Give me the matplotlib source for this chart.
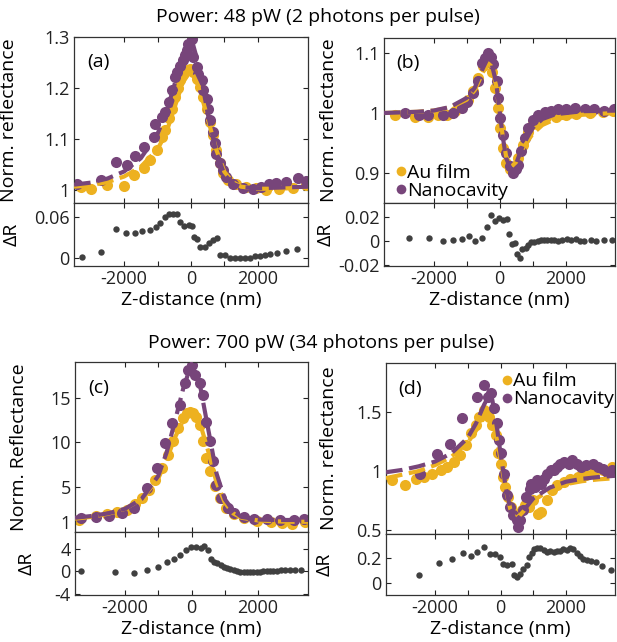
import matplotlib
matplotlib.use("Agg")
import matplotlib.pyplot as plt
from matplotlib.lines import Line2D

plt.rcParams["font.family"] = ["Open Sans", "DejaVu Sans"]
plt.rcParams["axes.unicode_minus"] = False

GOLD = "#EDB120"
PURPLE = "#77457a"
GREY = "#404040"

# ---- 48 pW, panel (a): reflectance peak ----
a_au_x = [-3300, -3004, -2510, -2016, -1713, -1416, -1218, -1020, -871, -772, -673, -574, -475,
          -376, -327, -228, -129, -30, 69, 168, 267, 366, 465, 564, 663, 762, 861, 960, 1109,
          1356, 1653, 1950, 2248, 2644, 3040, 3436]
a_au_y = [1.005, 1.001, 1.009, 1.008, 1.029, 1.042, 1.058, 1.078, 1.104, 1.117, 1.140, 1.159, 1.182,
          1.199, 1.215, 1.228, 1.235, 1.238, 1.231, 1.218, 1.202, 1.182, 1.159, 1.133, 1.107, 1.078,
          1.052, 1.032, 1.019, 1.012, 1.006, 1.003, 1.000, 1.001, 1.003, 1.009]
a_nc_x = [-3400, -2700, -2257, -1910, -1663, -1416, -1119, -1069, -871, -772, -673, -574, -475,
          -426, -327, -228, -178, -129, -79, 20, 69, 168, 218, 317, 366, 465, 515, 564, 663, 713,
          762, 861, 960, 1059, 1257, 1554, 1851, 2099, 2347, 2545, 2842, 3188, 3436]
a_nc_y = [1.012, 1.019, 1.054, 1.048, 1.067, 1.084, 1.104, 1.129, 1.143, 1.153, 1.172, 1.195, 1.222,
          1.231, 1.244, 1.254, 1.264, 1.274, 1.287, 1.297, 1.261, 1.241, 1.228, 1.215, 1.195, 1.179,
          1.159, 1.137, 1.114, 1.091, 1.071, 1.052, 1.039, 1.025, 1.012, 1.003, 1.001, 1.006, 1.012,
          1.014, 1.016, 1.024, 1.018]
a_fit_x = [-3500, -3000, -2500, -2000, -1500, -1000, -750, -500, -250, 0, 250, 500, 750, 1000,
           1250, 1500, 2000, 2500, 3000, 3500]
a_fit_au = [1.006, 1.009, 1.015, 1.026, 1.045, 1.080, 1.110, 1.160, 1.210, 1.235, 1.200, 1.140,
            1.080, 1.035, 1.015, 1.006, 1.002, 1.002, 1.003, 1.004]
a_fit_nc = [1.010, 1.014, 1.022, 1.036, 1.062, 1.110, 1.150, 1.205, 1.265, 1.300, 1.240, 1.150,
            1.075, 1.030, 1.012, 1.005, 1.003, 1.004, 1.005, 1.006]
a_dr_x = [-3264, -2680, -2243, -1947, -1671, -1454, -1235, -1057, -929, -790, -662, -534, -415,
          -344, -217, -68, 30, 80, 178, 279, 427, 525, 644, 772, 872, 1020, 1169, 1317, 1466, 1614,
          1763, 1913, 2062, 2210, 2374, 2573, 2850, 3167]
a_dr_y = [0.0023, 0.0095, 0.042, 0.036, 0.037, 0.039, 0.041, 0.0447, 0.0505, 0.060, 0.0635, 0.0644,
          0.064, 0.052, 0.0466, 0.048, 0.047, 0.031, 0.0274, 0.0159, 0.0159, 0.0216, 0.0264, 0.0297,
          0.0048, 0.0043, 0.0, 0.0, 0.0, 0.0, 0.001, 0.003, 0.004, 0.005, 0.006, 0.008, 0.011, 0.013]

# ---- 48 pW, panel (b): dispersive shape ----
b_au_x = [-3159, -2555, -2152, -1851, -1599, -1348, -1147, -945, -794, -643, -493, -342, -241,
          -141, -40, 10, 111, 212, 312, 463, 564, 715, 866, 1017, 1218, 1419, 1721, 2023, 2325,
          2728, 3130, 3432]
b_au_y = [0.997, 0.994, 0.994, 0.997, 0.996, 1.003, 1.011, 1.022, 1.036, 1.058, 1.078, 1.086, 1.069,
          1.042, 1.008, 0.975, 0.942, 0.917, 0.906, 0.911, 0.925, 0.947, 0.969, 0.981, 0.989, 0.993,
          0.994, 0.996, 0.998, 1.000, 1.002, 1.003]
b_nc_x = [-2856, -2454, -2152, -1699, -1398, -1147, -996, -794, -643, -523, -443, -342, -262, -191,
          -90, -40, 10, 111, 212, 312, 413, 513, 564, 664, 765, 866, 1017, 1167, 1369, 1570, 1771,
          2023, 2274, 2576, 2878, 3180, 3482]
b_nc_y = [1.000, 0.997, 0.996, 0.996, 1.000, 1.008, 1.019, 1.033, 1.053, 1.083, 1.092, 1.100, 1.094,
          1.081, 1.053, 1.025, 0.992, 0.964, 0.933, 0.911, 0.900, 0.906, 0.914, 0.936, 0.958, 0.975,
          0.989, 0.997, 1.002, 1.004, 1.006, 1.007, 1.008, 1.007, 1.006, 1.004, 1.006]
b_fit_x = [-3500, -2500, -2000, -1500, -1000, -750, -500, -350, -250, -100, 0, 100, 200, 350, 500,
           700, 1000, 1300, 1700, 2500, 3500]
b_fit_au = [1.000, 1.002, 1.004, 1.009, 1.022, 1.038, 1.068, 1.083, 1.078, 1.045, 1.005, 0.960,
            0.928, 0.910, 0.918, 0.940, 0.965, 0.980, 0.990, 0.997, 1.000]
b_fit_nc = [1.000, 1.002, 1.004, 1.010, 1.025, 1.042, 1.075, 1.092, 1.085, 1.050, 1.005, 0.960,
            0.925, 0.905, 0.915, 0.945, 0.975, 0.990, 0.998, 1.003, 1.004]
b_dr_x = [-2728, -2124, -1722, -1399, -1136, -916, -734, -544, -393, -260, -130, -9, 112, 224, 293,
          374, 474, 544, 625, 695, 797, 876, 958, 1048, 1157, 1250, 1350, 1450, 1551, 1652, 1773,
          1903, 2054, 2175, 2308, 2429, 2559, 2761, 2930, 3163, 3414]
b_dr_y = [0.0023, 0.0023, 0.0, 0.0011, 0.0014, 0.0043, 0.0, 0.0029, 0.012, 0.0215, 0.0166, 0.0195,
          0.018, 0.0186, 0.0063, -0.0029, -0.0014, -0.0109, -0.0143, -0.0071, -0.006, -0.0034,
          -0.0006, -0.0006, 0.0, 0.0006, 0.0006, 0.0011, 0.0011, 0.0006, 0.0003, 0.0009, 0.0014,
          0.0006, 0.0014, 0.0003, 0.0, 0.0011, 0.0, 0.0006, 0.0009]

# ---- 700 pW, panel (c): reflectance peak ----
c_au_x = [-3366, -2871, -2524, -2228, -1931, -1683, -1485, -1287, -1089, -891, -693, -545, -396,
          -248, -149, -50, 50, 149, 248, 347, 446, 545, 693, 842, 1040, 1287, 1584, 1980, 2376,
          2723, 3020, 3416]
c_au_y = [1.27, 1.68, 1.87, 2.10, 2.42, 2.99, 3.73, 4.66, 5.78, 7.09, 8.58, 10.07, 11.57, 12.69,
          13.25, 13.43, 13.25, 12.87, 11.94, 10.07, 8.21, 6.72, 5.04, 3.73, 2.61, 1.87, 1.49, 1.19,
          1.04, 0.93, 0.82, 0.97]
c_nc_x = [-3317, -2871, -2475, -2079, -1733, -1337, -1040, -792, -594, -347, -198, -99, 0, 99, 248,
          347, 446, 545, 644, 743, 891, 1089, 1287, 1584, 1881, 2277, 2673, 3069, 3366]
c_nc_y = [1.49, 1.57, 1.68, 2.05, 2.61, 4.85, 7.09, 9.89, 12.13, 14.18, 16.60, 18.10, 18.66, 17.54,
          16.60, 15.30, 12.30, 10.07, 7.84, 5.22, 3.73, 2.61, 2.05, 1.57, 1.38, 1.31, 1.27, 1.27,
          1.31]
c_fit_x = [-3500, -3000, -2500, -2000, -1500, -1000, -750, -500, -250, 0, 250, 500, 750, 1000,
           1250, 1500, 2000, 2500, 3000, 3500]
c_fit_au = [1.4, 1.6, 1.95, 2.5, 3.6, 5.9, 8.0, 10.5, 12.4, 13.2, 12.2, 9.0, 5.5, 3.2, 2.0, 1.5,
            1.2, 1.1, 1.05, 1.05]
c_fit_nc = [1.5, 1.7, 2.0, 2.5, 3.6, 6.2, 8.8, 12.3, 16.0, 18.8, 16.5, 11.5, 6.5, 3.6, 2.3, 1.6,
            1.3, 1.25, 1.25, 1.25]
c_dr_x = [-3312, -2294, -1730, -1335, -997, -742, -513, -344, -166, -18, 131, 279, 377, 496, 576,
          674, 772, 872, 970, 1068, 1169, 1267, 1365, 1466, 1564, 1662, 1763, 1861, 1961, 2062,
          2160, 2258, 2357, 2457, 2555, 2674, 2800, 2950, 3098, 3300]
c_dr_y = [0.0, -0.17, -0.28, 0.17, 0.74, 1.71, 2.28, 2.85, 3.82, 4.27, 4.27, 4.17, 4.56, 3.88, 2.12,
          1.71, 1.43, 1.14, 0.85, 0.57, 0.41, 0.17, 0.0, -0.11, -0.17, -0.17, -0.11, -0.11, -0.06,
          -0.06, 0.0, 0.0, 0.06, 0.06, 0.11, 0.17, 0.17, 0.23, 0.28, 0.28]

# ---- 700 pW, panel (d): dispersive shape ----
d_au_x = [-3317, -2921, -2574, -2326, -2079, -1832, -1634, -1436, -1238, -1040, -891, -762, -644,
          -515, -446, -347, -248, -149, -69, 0, 69, 149, 228, 327, 426, 525, 644, 743, 861, 990,
          1139, 1238, 1436, 1584, 1733, 1931, 2129, 2376, 2624, 2871, 3119, 3416]
d_au_y = [0.923, 0.880, 0.937, 0.951, 0.973, 1.007, 1.035, 1.077, 1.134, 1.218, 1.317, 1.387, 1.458,
          1.514, 1.500, 1.458, 1.387, 1.303, 1.148, 1.063, 0.951, 0.866, 0.782, 0.697, 0.641, 0.627,
          0.669, 0.711, 0.697, 0.754, 0.641, 0.655, 0.754, 0.838, 0.880, 0.908, 0.937, 0.951, 0.965,
          0.993, 1.007, 1.035]
d_nc_x = [-2475, -1931, -1535, -1188, -723, -515, -396, -297, -198, -99, -50, 0, 99, 198, 297, 396,
          495, 545, 594, 693, 792, 891, 940, 1040, 1119, 1238, 1337, 1436, 1535, 1634, 1733, 1832,
          1931, 2079, 2178, 2327, 2475, 2624, 2822, 2970, 3119, 3267, 3416]
d_nc_y = [0.979, 1.142, 1.232, 1.444, 1.627, 1.725, 1.627, 1.655, 1.528, 1.401, 1.261, 1.148, 0.979,
          0.796, 0.697, 0.627, 0.585, 0.528, 0.585, 0.669, 0.782, 0.852, 0.894, 0.866, 0.923, 0.894,
          0.937, 0.979, 1.007, 1.007, 1.035, 1.063, 1.077, 1.063, 1.092, 1.063, 1.035, 1.049, 1.063,
          1.035, 1.021, 0.993, 1.007]
d_fit_x = [-3500, -3000, -2500, -2000, -1500, -1000, -750, -500, -400, -350, -250, -100, 0, 150,
           300, 450, 600, 800, 1000, 1500, 2000, 2500, 3000, 3500]
d_fit_au = [0.94, 0.97, 1.00, 1.05, 1.12, 1.24, 1.34, 1.45, 1.49, 1.48, 1.44, 1.25, 1.10, 0.86,
            0.68, 0.60, 0.63, 0.69, 0.75, 0.84, 0.89, 0.915, 0.93, 0.94]
d_fit_nc = [0.99, 1.01, 1.04, 1.08, 1.15, 1.28, 1.40, 1.56, 1.61, 1.63, 1.60, 1.35, 1.15, 0.88,
            0.68, 0.58, 0.62, 0.70, 0.77, 0.86, 0.91, 0.935, 0.95, 0.96]
d_dr_x = [-2477, -1891, -1489, -1148, -894, -713, -492, -311, -160, -9, 91, 211, 344, 423, 514, 595,
          695, 797, 876, 949, 1027, 1118, 1220, 1320, 1420, 1523, 1622, 1722, 1823, 1924, 2024, 2127,
          2228, 2326, 2428, 2536, 2631, 2761, 2912, 3110, 3363]
d_dr_y = [0.061, 0.164, 0.197, 0.242, 0.222, 0.256, 0.297, 0.233, 0.233, 0.214, 0.158, 0.144, 0.158,
          0.061, 0.047, 0.075, 0.117, 0.144, 0.214, 0.242, 0.275, 0.283, 0.283, 0.269, 0.256, 0.264,
          0.256, 0.264, 0.264, 0.275, 0.269, 0.283, 0.275, 0.242, 0.219, 0.192, 0.186, 0.181, 0.172,
          0.136, 0.108]

panels = [
    dict(tag="(a)", box=(74, 37, 308, 203, 266), ylab="Norm. reflectance",
         au=(a_au_x, a_au_y), nc=(a_nc_x, a_nc_y), fit=(a_fit_x, a_fit_au, a_fit_nc),
         dr=(a_dr_x, a_dr_y), ylim=(0.974, 1.3), yt=[1, 1.1, 1.2, 1.3], ytl=["1", "1.1", "1.2", "1.3"],
         drlim=(-0.011, 0.08), drt=[0, 0.06], drtl=["0", "0.06"], lab_x=-0.24, dr_lab_x=-0.23,
         legend=None),
    dict(tag="(b)", box=(384, 38, 615, 203, 266), ylab="Norm. reflectance",
         au=(b_au_x, b_au_y), nc=(b_nc_x, b_nc_y), fit=(b_fit_x, b_fit_au, b_fit_nc),
         dr=(b_dr_x, b_dr_y), ylim=(0.85, 1.125), yt=[0.9, 1, 1.1], ytl=["0.9", "1", "1.1"],
         drlim=(-0.021, 0.032), drt=[-0.02, 0, 0.02], drtl=["-0.02", "0", "0.02"],
         lab_x=-0.20, dr_lab_x=-0.215, legend=("lower left", (0.02, -0.03))),
    dict(tag="(c)", box=(75, 362, 308, 532, 595), ylab="Norm. Reflectance",
         au=(c_au_x, c_au_y), nc=(c_nc_x, c_nc_y), fit=(c_fit_x, c_fit_au, c_fit_nc),
         dr=(c_dr_x, c_dr_y), ylim=(-0.1, 19), yt=[1, 5, 10, 15], ytl=["1", "5", "10", "15"],
         drlim=(-4.2, 7), drt=[-4, 0, 4], drtl=["-4", "0", "4"], lab_x=-0.20, dr_lab_x=-0.17,
         legend=None),
    dict(tag="(d)", box=(386, 363, 615, 534, 595), ylab="Norm. reflectance",
         au=(d_au_x, d_au_y), nc=(d_nc_x, d_nc_y), fit=(d_fit_x, d_fit_au, d_fit_nc),
         dr=(d_dr_x, d_dr_y), ylim=(0.47, 1.91), yt=[0.5, 1, 1.5], ytl=["0.5", "1", "1.5"],
         drlim=(-0.1, 0.4), drt=[0, 0.2], drtl=["0", "0.2"], lab_x=-0.21, dr_lab_x=-0.23,
         legend=("upper right", (1.03, 0.99))),
]

W, H = 617, 642
fig = plt.figure(figsize=(W / 100, H / 100), dpi=100)


def add_axes_px(left, top, right, bottom):
    return fig.add_axes([left / W, 1 - bottom / H, (right - left) / W, (bottom - top) / H])


def style_axes(ax):
    ax.tick_params(direction="in", top=True, right=True, length=3.5, width=0.8,
                   labelsize=13, colors="#222222", pad=3)
    for sp in ax.spines.values():
        sp.set_linewidth(0.9)
        sp.set_color("#333333")


xticks = [-2000, -1000, 0, 1000, 2000]
for p in panels:
    left, top, right, mid, bottom = p["box"]
    ax = add_axes_px(left, top, right, mid)
    axr = add_axes_px(left, mid, right, bottom)

    ax.plot(*p["au"], "o", color=GOLD, ms=8, mec="none", zorder=2)
    ax.plot(*p["nc"], "o", color=PURPLE, ms=8, mec="none", zorder=2)
    fx, fau, fnc = p["fit"]
    ax.plot(fx, fau, "--", color=GOLD, lw=3, dashes=(4, 1.6), zorder=3)
    ax.plot(fx, fnc, "--", color=PURPLE, lw=3, dashes=(4, 1.6), zorder=3)

    ax.set_xlim(-3500, 3500)
    ax.set_ylim(*p["ylim"])
    ax.set_xticks(xticks)
    ax.set_xticklabels([])
    ax.set_yticks(p["yt"])
    ax.set_yticklabels(p["ytl"])
    ax.set_ylabel(p["ylab"], fontsize=14)
    ax.yaxis.set_label_coords(p["lab_x"], 0.5)
    ax.text(0.055, 0.85, p["tag"], transform=ax.transAxes, fontsize=14, va="center")
    style_axes(ax)

    if p["legend"]:
        loc, anchor = p["legend"]
        handles = [Line2D([], [], ls="none", marker="o", ms=7, color=GOLD, mec="none"),
                   Line2D([], [], ls="none", marker="o", ms=7, color=PURPLE, mec="none")]
        ax.legend(handles, ["Au film", "Nanocavity"], loc=loc, bbox_to_anchor=anchor,
                  frameon=False, fontsize=14, handlelength=0.45, handletextpad=0.12,
                  labelspacing=0.0, borderpad=0.2, borderaxespad=0.2)

    axr.plot(*p["dr"], "o", color=GREY, ms=4.6, mec="none")
    axr.set_xlim(-3500, 3500)
    axr.set_ylim(*p["drlim"])
    axr.set_xticks(xticks)
    axr.set_xticklabels(["-2000", "", "0", "", "2000"])
    axr.set_yticks(p["drt"])
    axr.set_yticklabels(p["drtl"])
    axr.set_ylabel("\u0394R", fontsize=14)
    axr.yaxis.set_label_coords(p["dr_lab_x"], 0.5)
    axr.set_xlabel("Z-distance (nm)", fontsize=14, labelpad=2)
    style_axes(axr)

fig.text(318 / W, 1 - 17 / H, "Power: 48 pW (2 photons per pulse)", ha="center", va="center",
         fontsize=14)
fig.text(321 / W, 1 - 343 / H, "Power: 700 pW (34 photons per pulse)", ha="center", va="center",
         fontsize=14)

fig.savefig("out.png", dpi=100)
